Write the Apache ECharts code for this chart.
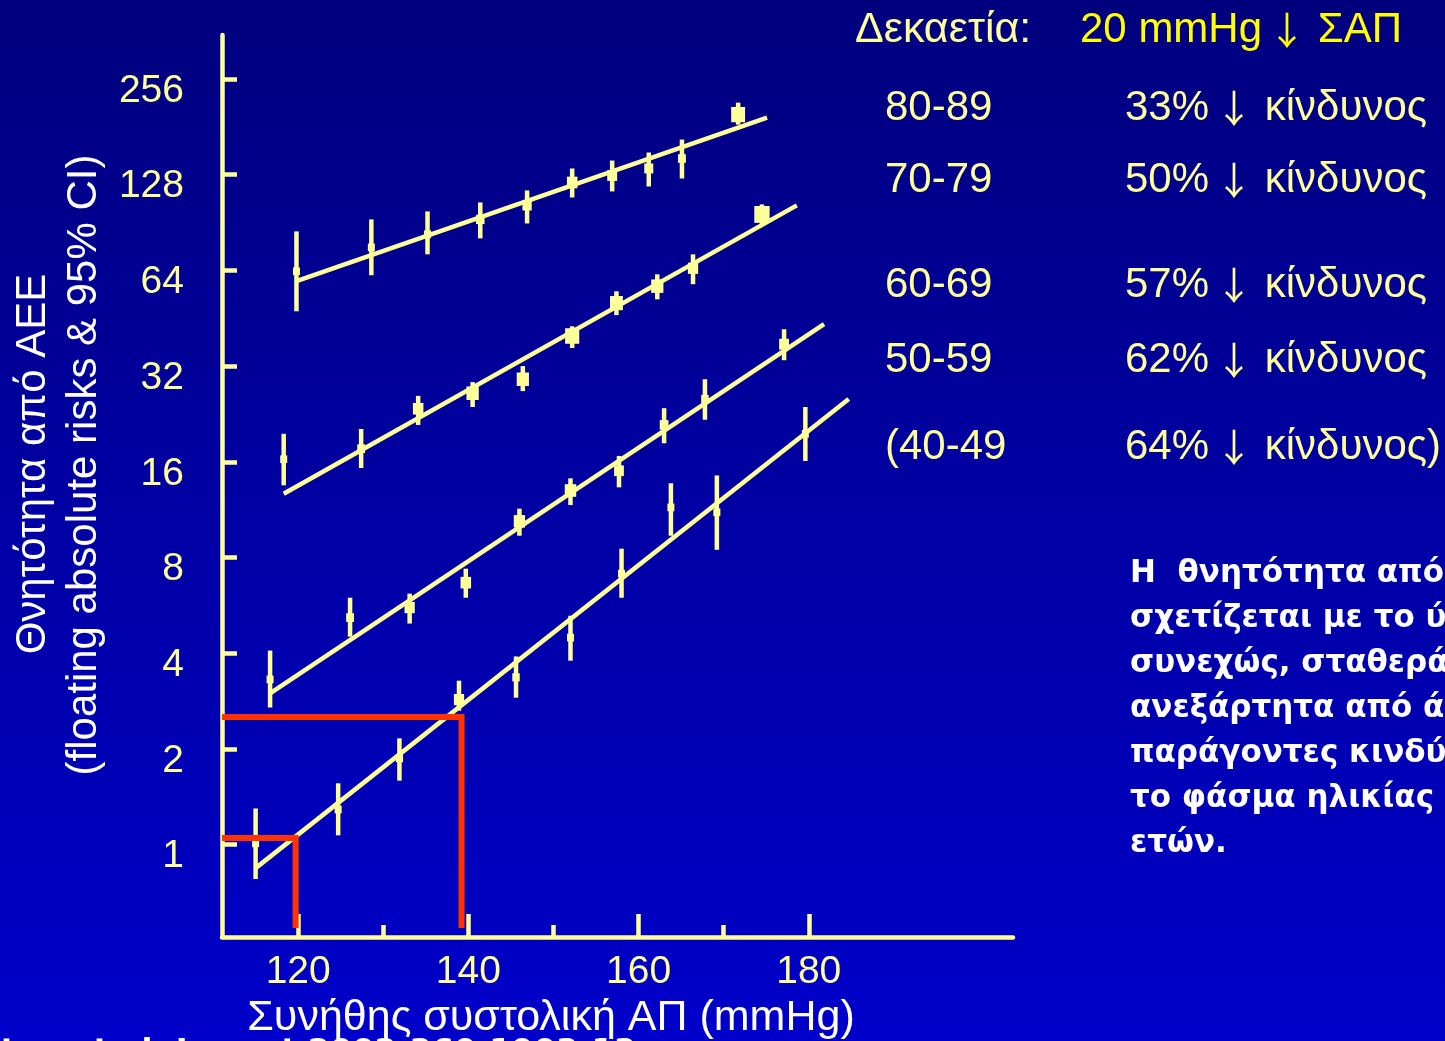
<!DOCTYPE html>
<html>
<head>
<meta charset="utf-8">
<title>Θνητότητα από ΑΕΕ</title>
<script src="https://cdn.jsdelivr.net/npm/echarts@6/dist/echarts.min.js"></script>
<style>
    html, body { margin: 0; padding: 0; }
    #chart { width: 1445px; height: 1041px; }
</style>
</head>
<body>
<div id="chart"></div>
<script>
    // ticks
    const xMajorTicks = [120, 140, 160, 180];
    const xMinorTicks = [130, 150, 170];
    const yTicks = [1, 2, 4, 8, 16, 32, 64, 128, 256];

    // ηλικία 80-89
    const sbp80 = [119.8, 128.6, 135.2, 141.4, 146.9, 152.2, 156.9, 161.2, 165.1, 171.7];
    const risk80 = [63.6, 75.6, 83.1, 92.6, 102.5, 121.0, 127.3, 133.9, 143.9, 197.8];
    const lo80 = [47.6, 61.8, 71.9, 80.7, 89.9, 108.5, 113.4, 117.5, 124.5, 183.9];
    const hi80 = [84.9, 92.6, 98.1, 104.7, 114.2, 133.9, 141.8, 150.3, 165.1, 215.7];
    const fitX80 = [119.8, 175.1];
    const fitY80 = [59.2, 193.6];

    // ηλικία 70-79
    const sbp70 = [118.3, 127.4, 134.1, 140.5, 146.4, 152.2, 157.4, 162.2, 166.4, 174.5];
    const risk70 = [16.3, 17.6, 23.5, 26.3, 29.1, 39.8, 50.5, 57.1, 65.0, 96.0];
    const lo70 = [13.5, 15.3, 20.9, 23.8, 26.7, 36.5, 46.3, 51.9, 57.9, 89.3];
    const hi70 = [19.6, 20.3, 25.8, 28.5, 32.0, 42.7, 55.0, 62.2, 71.9, 103.2];
    const fitX70 = [118.3, 178.6];
    const fitY70 = [12.7, 102.5];

    // ηλικία 60-69
    const sbp60 = [116.7, 126.1, 133.1, 139.7, 146.0, 152.0, 157.7, 163.0, 167.8, 177.1];
    const risk60 = [3.31, 5.18, 5.57, 6.67, 10.4, 13.0, 15.0, 20.9, 25.2, 37.5];
    const lo60 = [2.70, 4.51, 4.96, 5.98, 9.37, 11.7, 13.3, 18.3, 21.7, 33.4];
    const hi60 = [4.08, 5.98, 6.16, 7.38, 11.4, 14.2, 16.7, 23.6, 29.1, 41.8];
    const fitX60 = [116.7, 181.8];
    const fitY60 = [2.99, 43.4];

    // ηλικία 50-59
    const sbp50 = [115.0, 124.7, 131.9, 138.9, 145.6, 152.0, 158.0, 163.8, 169.2, 179.6];
    const risk50 = [1.01, 1.29, 1.87, 2.86, 3.36, 4.48, 7.12, 11.5, 11.1, 19.6];
    const lo50 = [0.78, 1.07, 1.59, 2.64, 2.90, 3.79, 5.98, 9.37, 8.46, 16.1];
    const hi50 = [1.30, 1.56, 2.16, 3.28, 3.91, 5.25, 8.53, 13.7, 14.5, 23.8];
    const fitX50 = [115.0, 184.7];
    const fitY50 = [0.844, 25.2];

    // κόκκινες γραμμές αναφοράς (120 / 140 mmHg)
    const guideSbp = [119.7, 139.2];
    const guideRisk = [1.05, 2.52];
    const guideFloor = 0.547;

    const xMin = 111.05, xMax = 204;
    const yMin = 0.5125, yMax = 352;

    const yellow = '#FFFF99';
    const red = '#FF3300';
    const font = 'Liberation Sans, Arial, sans-serif';

    function ciData(sbp, risk, lo, hi) {
        return sbp.map((x, i) => [x, risk[i], lo[i], hi[i]]);
    }
    function pairs(xs, ys) {
        return xs.map((x, i) => [x, ys[i]]);
    }

    // error bar + square marker
    function renderCI(params, api) {
        const x = api.value(0);
        const c = api.coord([x, api.value(1)]);
        const pLo = api.coord([x, api.value(2)]);
        const pHi = api.coord([x, api.value(3)]);
        const w = Math.log2(api.value(3) / api.value(2));
        const s = Math.max(7, Math.min(16, 3.2 / w));
        return {
            type: 'group',
            children: [
                {
                    type: 'line',
                    shape: {x1: pLo[0], y1: pLo[1], x2: pHi[0], y2: pHi[1]},
                    style: {stroke: yellow, lineWidth: 4.5}
                },
                {
                    type: 'rect',
                    shape: {x: c[0] - s / 2, y: c[1] - s * 0.55, width: s, height: s * 1.1},
                    style: {fill: yellow}
                }
            ]
        };
    }

    function fitSeries(xs, ys) {
        return {
            type: 'line',
            data: pairs(xs, ys),
            showSymbol: false,
            silent: true,
            lineStyle: {color: yellow, width: 4.5}
        };
    }
    function ciSeries(sbp, risk, lo, hi) {
        return {
            type: 'custom',
            renderItem: renderCI,
            data: ciData(sbp, risk, lo, hi),
            silent: true
        };
    }
    function guideSeries(i) {
        return {
            type: 'line',
            data: [[xMin, guideRisk[i]], [guideSbp[i], guideRisk[i]], [guideSbp[i], guideFloor]],
            showSymbol: false,
            silent: true,
            z: 5,
            lineStyle: {color: red, width: 6, join: 'miter', cap: 'butt'}
        };
    }

    let myChart = echarts.init(document.getElementById('chart'));

    const rowAges = ['80-89', '70-79', '60-69', '50-59', '(40-49'];
    const rowRisk = ['33%{a|↓} κίνδυνος', '50%{a|↓} κίνδυνος', '57%{a|↓} κίνδυνος', '62%{a|↓} κίνδυνος', '64%{a|↓} κίνδυνος)'];
    const rowY = [108, 180, 285, 360, 447];
    const note = [
        'Η  θνητότητα από ΑΕΕ',
        'σχετίζεται με το ύψος της ΑΠ',
        'συνεχώς, σταθερά και',
        'ανεξάρτητα από άλλους',
        'παράγοντες κινδύνου, σε όλο',
        'το φάσμα ηλικίας 40-89',
        'ετών.'
    ];
    const arrowRich = {a: {fontFamily: 'Noto Sans CJK SC', fontSize: 38, padding: [0, 0, 0, 6]}};

    function sideText(x, y, text, fill, size) {
        return {
            type: 'text', x: x, y: y,
            style: {
                text: text, fill: fill, fontSize: size, fontFamily: font,
                textAlign: 'left', textVerticalAlign: 'middle', rich: arrowRich
            }
        };
    }

    const graphics = [
        sideText(855, 30, 'Δεκαετία:', yellow, 43),
        sideText(1080, 30, '20 mmHg{a|↓} ΣΑΠ', '#FFFF00', 42),
        {type: 'text', x: 33, y: 464, rotation: Math.PI / 2, style: {text: 'Θνητότητα από ΑΕΕ', fill: '#fff', font: '42px ' + font, textAlign: 'center', textVerticalAlign: 'middle'}},
        {type: 'text', x: 84, y: 465, rotation: Math.PI / 2, style: {text: '(floating absolute risks & 95% CI)', fill: '#fff', font: '42px ' + font, textAlign: 'center', textVerticalAlign: 'middle'}},
        {type: 'text', x: 551, y: 1018, style: {text: 'Συνήθης συστολική ΑΠ (mmHg)', fill: '#fff', font: '43px ' + font, textAlign: 'center', textVerticalAlign: 'middle'}},
        {type: 'text', x: 636, y: 1037, style: {text: 'Lewington et al. Lancet 2002;360:1903-13', fill: '#fff', font: 'bold 32px DejaVu Sans', textAlign: 'right', textVerticalAlign: 'top'}}
    ];
    rowAges.forEach((t, i) => {
        graphics.push(sideText(885, rowY[i], t, yellow, 42));
        graphics.push(sideText(1125, rowY[i], rowRisk[i], yellow, 42));
    });
    note.forEach((t, i) => {
        graphics.push({type: 'text', x: 1130, y: 574 + i * 45, style: {text: t, fill: '#fff', font: 'bold 31px DejaVu Sans', textAlign: 'left', textVerticalAlign: 'middle'}});
    });

    let option = {
        animation: false,
        backgroundColor: {
            type: 'linear', x: 0, y: 0, x2: 0, y2: 1,
            colorStops: [{offset: 0, color: '#00007E'}, {offset: 1, color: '#0000CA'}]
        },
        grid: {left: 222, right: 432, top: 35, bottom: 104},
        xAxis: [
            {
                type: 'value',
                position: 'bottom',
                min: xMin,
                max: xMax,
                axisLine: {show: true, lineStyle: {color: yellow, width: 4.5}},
                axisTick: {show: true, inside: true, length: 23, customValues: xMajorTicks, lineStyle: {color: yellow, width: 4.5}},
                axisLabel: {show: true, customValues: xMajorTicks, color: yellow, fontSize: 39, fontFamily: font, margin: 16},
                splitLine: {show: false}
            },
            {
                type: 'value',
                position: 'bottom',
                min: xMin,
                max: xMax,
                axisLine: {show: false},
                axisTick: {show: true, inside: true, length: 12, customValues: xMinorTicks, lineStyle: {color: yellow, width: 4.5}},
                axisLabel: {show: false},
                splitLine: {show: false}
            }
        ],
        yAxis: {
            type: 'log',
            logBase: 2,
            min: yMin,
            max: yMax,
            axisLine: {show: true, lineStyle: {color: yellow, width: 4.5}},
            axisTick: {show: true, inside: true, length: 15, customValues: yTicks, lineStyle: {color: yellow, width: 4.5}},
            axisLabel: {
                show: true, customValues: yTicks, color: yellow, fontSize: 39, fontFamily: font,
                margin: 38, verticalAlign: 'top', lineHeight: 24
            },
            splitLine: {show: false}
        },
        graphic: graphics,
        series: [
            fitSeries(fitX80, fitY80),
            fitSeries(fitX70, fitY70),
            fitSeries(fitX60, fitY60),
            fitSeries(fitX50, fitY50),
            ciSeries(sbp80, risk80, lo80, hi80),
            ciSeries(sbp70, risk70, lo70, hi70),
            ciSeries(sbp60, risk60, lo60, hi60),
            ciSeries(sbp50, risk50, lo50, hi50),
            guideSeries(0),
            guideSeries(1)
        ]
    };
    myChart.setOption(option);
</script>
</body>
</html>
